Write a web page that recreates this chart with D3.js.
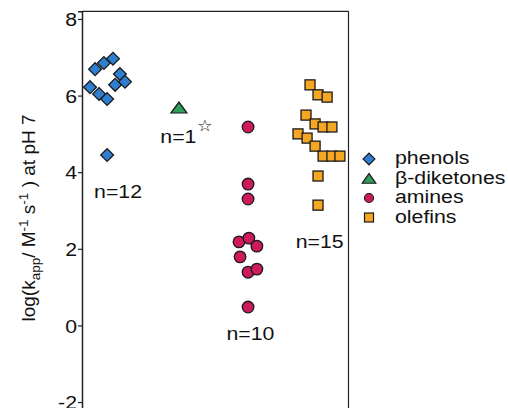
<!DOCTYPE html>
<html><head><meta charset="utf-8">
<script src="https://cdn.jsdelivr.net/npm/d3@7"></script>
<style>body{margin:0;background:#fff}svg{display:block}text{font-family:"Liberation Sans",Arial,sans-serif;fill:#111}</style>
</head><body><svg id="c" width="508" height="408"></svg>
<script>
// data
const phenolX = [4.9, 8.2, 11.6, 14.2, 12.4, 16.1, 3.0, 6.4, 9.4, 9.4];
const phenolY = [6.69, 6.85, 6.96, 6.56, 6.28, 6.36, 6.22, 6.04, 5.91, 4.45];
const diketoneX = [36.3];
const diketoneY = [5.64];
const amineX = [62.2, 62.2, 62.2, 58.8, 62.5, 65.5, 59.2, 62.2, 65.5, 62.2];
const amineY = [5.18, 3.69, 3.30, 2.18, 2.28, 2.07, 1.79, 1.39, 1.47, 0.48];
const olefinX = [85.4, 88.4, 91.8, 83.9, 87.3, 90.3, 93.6, 80.9, 84.3, 87.3, 90.3, 93.6, 96.6, 88.4, 88.4];
const olefinY = [6.28, 6.02, 5.96, 5.49, 5.26, 5.18, 5.18, 5.00, 4.89, 4.68, 4.42, 4.42, 4.42, 3.90, 3.14];
const yTicks = [-2, 0, 2, 4, 6, 8];
const seriesNames = ["phenols", "β-diketones", "amines", "olefins"];
const seriesColors = ["#2f7fd0", "#2e9e5a", "#cc1a5c", "#f5a623"];
const countLabels = ["n=12", "n=1", "n=10", "n=15"];
const countLabelX = [13.5, 36.1, 63.1, 89.0];
const countLabelY = [3.33, 4.76, -0.38, 2.02];

const SX = 1.12; // horizontal stretch of the reference text
const svg = d3.select("#c");
const x = d3.scaleLinear().domain([0, 100]).range([82, 349]);
const y = d3.scaleLinear().domain([-2.2, 8.2]).range([409.7, 11.3]);

// frame
svg.append("line").attr("x1", 82).attr("x2", 348.5).attr("y1", y(8.2)).attr("y2", y(8.2)).attr("stroke", "#222").attr("stroke-width", 1.2);
svg.append("line").attr("x1", 348.5).attr("x2", 348.5).attr("y1", y(8.2)).attr("y2", 408).attr("stroke", "#222").attr("stroke-width", 1.2);

const ax = svg.append("g").attr("transform", "translate(82,0)")
  .call(d3.axisLeft(y).tickValues(yTicks).tickSize(4).tickPadding(1).tickFormat(d3.format("d")));
ax.select(".domain").attr("stroke", "#222").attr("stroke-width", 1.5);
ax.selectAll(".tick line").attr("stroke", "#222").attr("stroke-width", 1.2);
ax.selectAll(".tick text").attr("x", null).attr("dy", null)
  .attr("transform", `translate(-5,0) scale(${SX},1)`).attr("dy", "0.35em")
  .style("font-size", "19px").style("fill", "#111").text(d => d < 0 ? "-" + Math.abs(d) : d);

// y title
const yt = svg.append("text").attr("transform", "translate(35,218) rotate(-90)").attr("text-anchor", "middle").style("font-size", "19px");
yt.append("tspan").text("log(k");
yt.append("tspan").text("app").attr("dy", 5).style("font-size", "13.5px");
yt.append("tspan").text("/ M").attr("dy", -5);
yt.append("tspan").text("-1").attr("dy", -7).style("font-size", "13.5px");
yt.append("tspan").text(" s").attr("dy", 7);
yt.append("tspan").text("-1").attr("dy", -7).style("font-size", "13.5px");
yt.append("tspan").text(" ) at pH 7").attr("dy", 7);

const stroke = "#1a1a1a";
// phenols diamonds
svg.append("g").selectAll("path").data(phenolX).join("path")
  .attr("d", d3.symbol(d3.symbolSquare, 82)())
  .attr("transform", (d, i) => `translate(${x(d)},${y(phenolY[i])}) rotate(45)`)
  .attr("fill", seriesColors[0]).attr("stroke", stroke).attr("stroke-width", 1.3);
// diketone triangle
svg.append("g").selectAll("path").data(diketoneX).join("path")
  .attr("d", d3.symbol(d3.symbolTriangle, 80)())
  .attr("transform", (d, i) => `translate(${x(d)},${y(diketoneY[i])}) scale(1.18,0.92)`)
  .attr("fill", seriesColors[1]).attr("stroke", stroke).attr("stroke-width", 1.2);
// amines circles
svg.append("g").selectAll("circle").data(amineX).join("circle")
  .attr("cx", d => x(d)).attr("cy", (d, i) => y(amineY[i])).attr("r", 5.8)
  .attr("fill", seriesColors[2]).attr("stroke", stroke).attr("stroke-width", 1.3);
// olefins squares
svg.append("g").selectAll("rect").data(olefinX).join("rect")
  .attr("x", d => x(d) - 5).attr("y", (d, i) => y(olefinY[i]) - 5).attr("width", 10).attr("height", 10)
  .attr("fill", seriesColors[3]).attr("stroke", stroke).attr("stroke-width", 1.3);

// count labels
svg.append("g").selectAll("text").data(countLabels).join("text")
  .attr("transform", (d, i) => `translate(${x(countLabelX[i])},${y(countLabelY[i])}) scale(${SX},1)`)
  .attr("text-anchor", "middle").style("font-size", "19px").text(d => d);
svg.append("text").attr("transform", `translate(${x(46)},${y(5.08)}) scale(1.1,1)`).attr("text-anchor", "middle")
  .style("font-size", "16px").style("font-family", "DejaVu Sans").style("fill", "#222").text("☆");

// legend
const lg = svg.append("g").attr("transform", "translate(369,159)");
const rows = lg.selectAll("g").data(seriesNames).join("g").attr("transform", (d, i) => `translate(0,${i * 19.5})`);
rows.each(function(d, i) {
  const g = d3.select(this);
  if (i === 0) g.append("path").attr("d", d3.symbol(d3.symbolSquare, 70)()).attr("transform", "rotate(45)");
  if (i === 1) g.append("path").attr("d", d3.symbol(d3.symbolTriangle, 60)()).attr("transform", "translate(0,1.5) scale(1.15,0.95)");
  if (i === 2) g.append("circle").attr("r", 4.5);
  if (i === 3) g.append("rect").attr("x", -4.5).attr("y", -4.5).attr("width", 9).attr("height", 9);
  g.selectAll("path,circle,rect").attr("fill", seriesColors[i]).attr("stroke", stroke).attr("stroke-width", 1.2);
  g.append("text").attr("transform", `translate(26,5) scale(${SX},1)`).style("font-size", "19px").text(d);
});
</script></body></html>
